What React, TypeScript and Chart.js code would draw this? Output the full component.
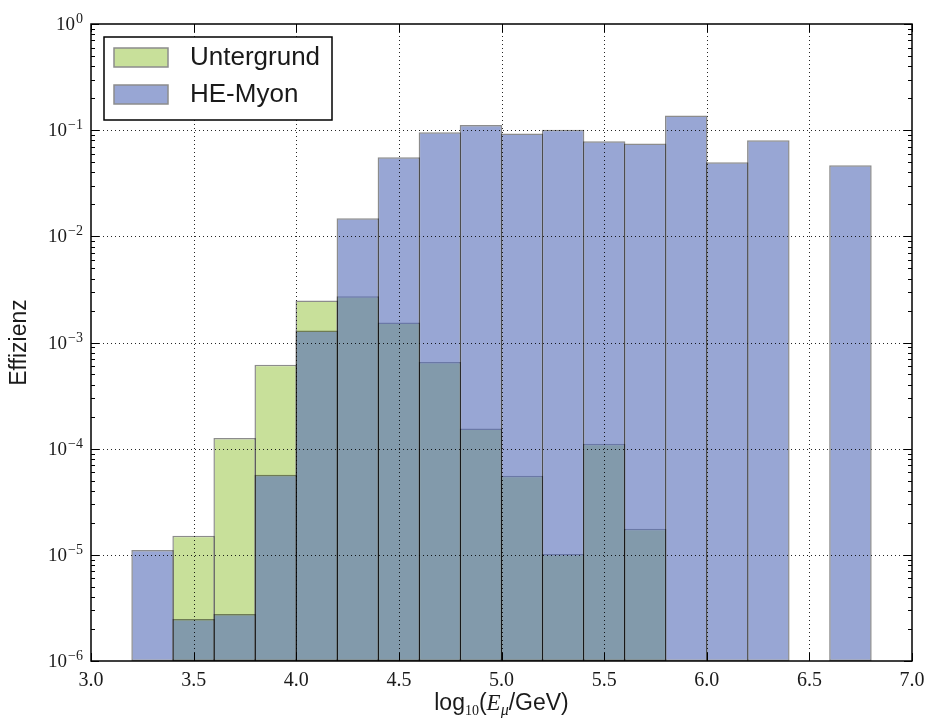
import React, { useEffect, useRef } from 'react';
import { Chart, registerables } from 'chart.js';

Chart.register(...registerables);

// ---- data ----
const binCenters = [3.3, 3.5, 3.7, 3.9, 4.1, 4.3, 4.5, 4.7, 4.9, 5.1, 5.3, 5.5, 5.7, 5.9, 6.1, 6.3, 6.5, 6.7];
const untergrund: (number | null)[] = [null, 1.51e-5, 1.26e-4, 6.16e-4, 2.49e-3, 2.72e-3, 1.54e-3, 6.55e-4, 1.55e-4, 5.56e-5, 1.02e-5, 1.11e-4, 1.76e-5, null, null, null, null, null];
const heMyon: (number | null)[] = [1.11e-5, 2.49e-6, 2.77e-6, 5.68e-5, 1.30e-3, 1.48e-2, 5.56e-2, 9.55e-2, 0.112, 0.093, 0.1007, 0.0787, 0.0749, 0.1375, 0.0499, 0.0805, null, 0.0468];
const legendLabels = ['Untergrund', 'HE-Myon'];
const xTickValues = [3.0, 3.5, 4.0, 4.5, 5.0, 5.5, 6.0, 6.5, 7.0];
const yTickExponents = [-6, -5, -4, -3, -2, -1, 0];
const xLabel = { pre: 'log', sub: '10', open: '(', E: 'E', mu: 'μ', post: '/GeV)' };
const yLabel = 'Effizienz';
const X_MIN = 3;
const X_MAX = 7;
const Y_MIN = 1e-6;
const Y_MAX = 1;

const GREEN_FILL = 'rgb(200,224,154)';
const BLUE_FILL = 'rgba(83,107,183,0.6)';
const BLUE_SWATCH = 'rgb(152,166,212)';
const EDGE = 'rgba(0,0,0,0.45)';
const TEXT = '#1a1a1a';
const SERIF = '"Liberation Serif", "DejaVu Serif", serif';
const SANS = '"Liberation Sans", Arial, sans-serif';

const toBars = (vals: (number | null)[]) =>
  binCenters
    .map((c, i) => (vals[i] == null ? null : { x: c, y: [Y_MIN, vals[i] as number] }))
    .filter((d) => d !== null);

const overlay = {
  id: 'overlay',
  afterDatasetsDraw(chart: any) {
    const { ctx, chartArea: a, scales } = chart;
    const x = scales.x;
    const y = scales.y;
    ctx.save();

    // dotted grid on top of bars
    ctx.strokeStyle = 'rgba(0,0,0,0.85)';
    ctx.lineWidth = 1;
    ctx.setLineDash([1, 3]);
    for (const v of xTickValues) {
      if (v <= X_MIN || v >= X_MAX) continue;
      const px = Math.round(x.getPixelForValue(v)) + 0.5;
      ctx.beginPath();
      ctx.moveTo(px, a.top);
      ctx.lineTo(px, a.bottom);
      ctx.stroke();
    }
    for (const e of yTickExponents) {
      const val = Math.pow(10, e);
      if (val <= Y_MIN || val >= Y_MAX) continue;
      const py = Math.round(y.getPixelForValue(val)) + 0.5;
      ctx.beginPath();
      ctx.moveTo(a.left, py);
      ctx.lineTo(a.right, py);
      ctx.stroke();
    }
    ctx.setLineDash([]);

    // legend
    const lx = a.left + 13;
    const ly = a.top + 13;
    const lw = 228;
    const lh = 83;
    ctx.fillStyle = '#ffffff';
    ctx.fillRect(lx, ly, lw, lh);
    ctx.strokeStyle = '#000';
    ctx.lineWidth = 1.5;
    ctx.strokeRect(lx, ly, lw, lh);
    const swatches = [GREEN_FILL, BLUE_SWATCH];
    legendLabels.forEach((lab, i) => {
      const sy = ly + 11 + i * 37;
      ctx.fillStyle = swatches[i];
      ctx.fillRect(lx + 10, sy, 54, 19);
      ctx.strokeStyle = 'rgb(140,140,140)';
      ctx.lineWidth = 1.5;
      ctx.strokeRect(lx + 10, sy, 54, 19);
      ctx.fillStyle = TEXT;
      ctx.font = `26px ${SANS}`;
      ctx.textAlign = 'left';
      ctx.textBaseline = 'middle';
      ctx.fillText(lab, lx + 86, sy + 10);
    });

    // frame
    ctx.strokeStyle = '#000';
    ctx.lineWidth = 1.5;
    ctx.strokeRect(a.left, a.top, a.right - a.left, a.bottom - a.top);

    // ticks (inward, all sides)
    ctx.lineWidth = 1;
    for (const v of xTickValues) {
      const px = Math.round(x.getPixelForValue(v)) + 0.5;
      ctx.beginPath();
      ctx.moveTo(px, a.bottom);
      ctx.lineTo(px, a.bottom - 8);
      ctx.moveTo(px, a.top);
      ctx.lineTo(px, a.top + 8);
      ctx.stroke();
    }
    for (const e of yTickExponents) {
      const py = Math.round(y.getPixelForValue(Math.pow(10, e))) + 0.5;
      ctx.beginPath();
      ctx.moveTo(a.left, py);
      ctx.lineTo(a.left + 8, py);
      ctx.moveTo(a.right, py);
      ctx.lineTo(a.right - 8, py);
      ctx.stroke();
      if (e < 0) {
        for (let m = 2; m <= 9; m++) {
          const pm = Math.round(y.getPixelForValue(m * Math.pow(10, e))) + 0.5;
          ctx.beginPath();
          ctx.moveTo(a.left, pm);
          ctx.lineTo(a.left + 4, pm);
          ctx.moveTo(a.right, pm);
          ctx.lineTo(a.right - 4, pm);
          ctx.stroke();
        }
      }
    }

    // x tick labels
    ctx.fillStyle = TEXT;
    ctx.font = `20px ${SERIF}`;
    ctx.textAlign = 'center';
    ctx.textBaseline = 'alphabetic';
    for (const v of xTickValues) {
      ctx.fillText(v.toFixed(1), x.getPixelForValue(v), a.bottom + 25);
    }

    // y tick labels 10^e
    ctx.textAlign = 'left';
    for (const e of yTickExponents) {
      const py = y.getPixelForValue(Math.pow(10, e));
      const sup = e === 0 ? '0' : '\u2212' + Math.abs(e);
      ctx.font = `14px ${SERIF}`;
      const wSup = ctx.measureText(sup).width;
      ctx.font = `19px ${SERIF}`;
      const wBase = ctx.measureText('10').width;
      const right = a.left - 8;
      ctx.fillText('10', right - wSup - wBase - 1, py + 6);
      ctx.font = `14px ${SERIF}`;
      ctx.fillText(sup, right - wSup, py - 1);
    }

    // y axis title
    ctx.save();
    ctx.translate(20, (a.top + a.bottom) / 2);
    ctx.rotate(-Math.PI / 2);
    ctx.font = `23px ${SANS}`;
    ctx.textAlign = 'center';
    ctx.textBaseline = 'middle';
    ctx.fillText(yLabel, 0, 0);
    ctx.restore();

    // x axis title: log10(E_mu/GeV)
    const pieces = [
      { t: xLabel.pre, f: `23px ${SANS}`, dy: 0 },
      { t: xLabel.sub, f: `14px ${SERIF}`, dy: 5 },
      { t: xLabel.open, f: `23px ${SANS}`, dy: 0 },
      { t: xLabel.E, f: `italic 23px ${SERIF}`, dy: 0 },
      { t: xLabel.mu, f: `italic 16px ${SERIF}`, dy: 5 },
      { t: xLabel.post, f: `23px ${SANS}`, dy: 0 },
    ];
    let total = 0;
    const widths = pieces.map((p) => {
      ctx.font = p.f;
      const w = ctx.measureText(p.t).width;
      total += w;
      return w;
    });
    let cx = (a.left + a.right) / 2 - total / 2;
    const baseY = 710;
    ctx.textAlign = 'left';
    ctx.textBaseline = 'alphabetic';
    pieces.forEach((p, i) => {
      ctx.font = p.f;
      ctx.fillText(p.t, cx, baseY + p.dy);
      cx += widths[i];
    });

    ctx.restore();
  },
};

const barStyle = {
  borderColor: EDGE,
  borderWidth: 1.5,
  borderSkipped: false,
  inflateAmount: 0,
  grouped: false,
  barPercentage: 1.036,
  categoryPercentage: 1,
};

export default function App() {
  const ref = useRef<HTMLCanvasElement | null>(null);

  useEffect(() => {
    document.body.style.margin = '0';
    document.body.style.overflow = 'hidden';
    if (!ref.current) return;
    const chart = new Chart(ref.current, {
      type: 'bar',
      data: {
        datasets: [
          {
            label: legendLabels[0],
            data: toBars(untergrund) as any,
            backgroundColor: GREEN_FILL,
            ...barStyle,
            order: 2,
          } as any,
          {
            label: legendLabels[1],
            data: toBars(heMyon) as any,
            backgroundColor: BLUE_FILL,
            ...barStyle,
            order: 1,
          } as any,
        ],
      },
      options: {
        animation: false,
        responsive: false,
        devicePixelRatio: 1,
        layout: { padding: { top: 24, right: 18, left: 0, bottom: 0 } },
        plugins: { legend: { display: false }, tooltip: { enabled: false } },
        scales: {
          x: {
            type: 'linear',
            min: X_MIN,
            max: X_MAX,
            offset: false,
            grid: { display: false },
            border: { display: false },
            ticks: { display: false },
            afterFit: (s: any) => {
              s.height = 57;
            },
          },
          y: {
            type: 'logarithmic',
            min: Y_MIN,
            max: Y_MAX,
            grid: { display: false },
            border: { display: false },
            ticks: { display: false },
            afterFit: (s: any) => {
              s.width = 91;
            },
          },
        },
      } as any,
      plugins: [overlay],
    });
    return () => chart.destroy();
  }, []);

  return (
    <div style={{ width: 930, height: 718 }}>
      <canvas ref={ref} width={930} height={718} style={{ display: 'block' }} />
    </div>
  );
}
